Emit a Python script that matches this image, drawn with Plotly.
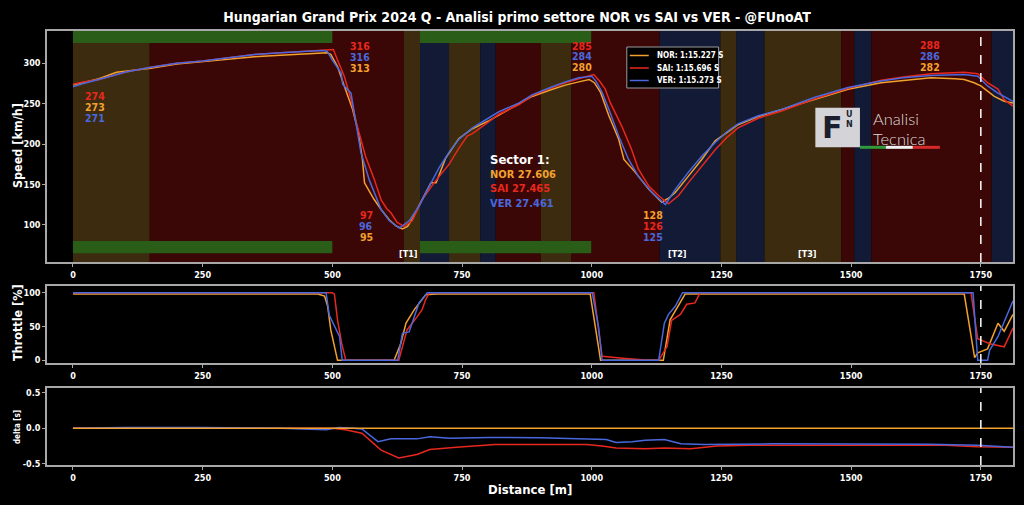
import plotly.graph_objects as go
from plotly.subplots import make_subplots

# ---------------- data ----------------
drivers = ["NOR", "SAI", "VER"]
lap_times = ["1:15.227", "1:15.696", "1:15.273"]
sector_times = ["27.606", "27.465", "27.461"]
colors = {"NOR": "#f2a12e", "SAI": "#e8281e", "VER": "#4a68de"}

nor_speed_d = [0, 20, 50, 84, 100, 150, 200, 250, 300, 350, 400, 450, 490, 497, 510, 523, 539, 550, 558, 562, 580, 594,
               610, 622, 635, 645, 655, 667, 680, 690, 700, 718, 725, 744, 770, 802, 827, 860, 885, 920, 949, 975, 995,
               1005, 1017, 1033, 1052, 1062, 1084, 1110, 1125, 1135, 1148, 1161, 1186, 1212, 1238, 1260, 1282, 1321,
               1366, 1430, 1494, 1558, 1600, 1654, 1700, 1718, 1737, 1750, 1776, 1795, 1812]
nor_speed = [273, 276, 281, 289, 290, 294, 299, 302, 305, 308, 310, 312, 313, 311, 296, 272, 243, 215, 181, 152, 132, 119,
             106, 99, 95, 98, 108, 124, 140, 152, 152, 182, 189, 207, 219, 229, 238, 250, 259, 267, 273, 277, 280,
             276, 264, 235, 206, 181, 165, 144, 134, 128, 133, 140, 160, 181, 204, 214, 224, 234,
             243, 256, 268, 276, 279, 282, 281, 280, 276, 272, 259, 253, 251]

sai_speed_d = [0, 20, 50, 100, 150, 200, 250, 300, 350, 400, 450, 490, 502, 510, 523, 536, 548, 564, 581, 594, 605, 613,
               625, 638, 654, 673, 696, 725, 744, 760, 770, 800, 821, 860, 885, 920, 949, 975, 1004, 1015, 1026, 1036,
               1058, 1077, 1090, 1110, 1129, 1148, 1167, 1186, 1212, 1238, 1260, 1282, 1321, 1366, 1430, 1494, 1558,
               1600, 1654, 1718, 1744, 1763, 1783, 1795, 1812]
sai_speed = [274, 277, 280, 289, 295, 300, 303, 307, 311, 313, 315, 316, 317, 304, 284, 255, 222, 185, 156, 131, 120, 115,
             103, 98, 105, 131, 152, 175, 195, 210, 213, 227, 237, 249, 260, 269, 276, 281, 286, 278, 268, 251,
             222, 193, 169, 148, 136, 126, 136, 152, 173, 193, 208, 220, 232, 241, 256, 269, 279,
             283, 287, 289, 287, 276, 268, 255, 247]

ver_speed_d = [0, 20, 50, 100, 150, 200, 250, 300, 350, 400, 450, 480, 490, 500, 517, 520, 536, 545, 555, 571, 594, 610,
               629, 648, 667, 687, 706, 725, 744, 770, 800, 821, 860, 885, 920, 949, 975, 1000, 1008, 1020, 1033, 1052,
               1071, 1090, 1116, 1130, 1142, 1161, 1186, 1212, 1238, 1260, 1282, 1321, 1366, 1430, 1494, 1558, 1600,
               1654, 1718, 1744, 1763, 1783, 1812]
ver_speed = [271, 275, 280, 289, 295, 300, 303, 307, 311, 313, 315, 316, 315, 304, 288, 274, 263, 230, 190, 156, 119, 105,
             96, 105, 123, 148, 171, 190, 206, 220, 232, 240, 251, 261, 270, 277, 282, 284, 278, 264, 243, 210,
             181, 160, 140, 132, 125, 144, 165, 185, 202, 215, 225, 235, 243, 258, 270, 278, 282,
             285, 286, 284, 272, 263, 253]

nor_thr_d = [0, 472, 485, 491, 497, 510, 619, 632, 642, 658, 671, 680, 700, 997, 1017, 1138, 1151, 1167, 1180,
             1718, 1738, 1744, 1763, 1783, 1795, 1812]
nor_thr = [98, 98, 95, 80, 45, 0, 0, 25, 55, 75, 88, 97, 98, 98, 0, 0, 60, 80, 98,
           98, 4, 11, 17, 55, 43, 68]
sai_thr_d = [0, 500, 504, 510, 518, 526, 628, 638, 644, 664, 673, 680, 687, 1004, 1012, 1020, 1060, 1110, 1129,
             1145, 1154, 1171, 1183, 1199, 1209, 1731, 1744, 1769, 1795, 1812]
sai_thr = [100, 100, 98, 60, 25, 0, 0, 30, 45, 65, 75, 90, 100, 100, 55, 6, 3, 0, 0,
           20, 59, 68, 83, 85, 100, 100, 32, 24, 20, 48]
ver_thr_d = [0, 488, 494, 505, 514, 519, 626, 635, 648, 667, 683, 1001, 1013, 1020, 1129, 1140, 1148, 1161, 1175,
             1735, 1744, 1763, 1767, 1783, 1812]
ver_thr = [100, 100, 67, 50, 35, 0, 0, 40, 42, 85, 100, 100, 50, 0, 0, 55, 68, 80, 100,
           100, 0, 0, 15, 35, 88]

nor_delta_d = [0, 1812]
nor_delta = [0, 0]
sai_delta_d = [0, 250, 500, 525, 557, 594, 628, 663, 688, 739, 814, 900, 990, 1020, 1047, 1103, 1140, 1191, 1241,
               1304, 1500, 1681, 1744, 1812]
sai_delta = [0, 0, 0, -0.02, -0.07, -0.31, -0.42, -0.37, -0.30, -0.27, -0.23, -0.23, -0.23, -0.25, -0.28, -0.29,
             -0.28, -0.29, -0.25, -0.24, -0.235, -0.24, -0.26, -0.27]
ver_delta_d = [0, 100, 250, 400, 488, 513, 540, 557, 588, 613, 663, 688, 726, 802, 900, 990, 1028, 1047, 1078, 1103,
               1140, 1172, 1216, 1350, 1493, 1650, 1744, 1812]
ver_delta = [0, 0.01, 0.01, 0, -0.02, 0.01, 0, -0.01, -0.19, -0.15, -0.15, -0.12, -0.14, -0.13, -0.135, -0.15, -0.16,
             -0.20, -0.19, -0.17, -0.16, -0.22, -0.23, -0.22, -0.22, -0.225, -0.24, -0.27]

# background bands (distance m)
band_start = [0, 148, 638, 669, 725, 785, 815, 902, 961, 1131, 1248, 1279, 1333, 1481, 1506, 1539, 1771]
band_end = [148, 638, 669, 725, 785, 815, 902, 961, 1131, 1248, 1279, 1333, 1481, 1506, 1539, 1771, 1812]
band_kind = ["olive", "red", "olive", "navy", "olive", "navy", "red", "olive", "red", "navy", "olive", "navy",
             "olive", "red", "navy", "red", "navy"]
band_colors = {"olive": "#3c2b0e", "red": "#3a0606", "navy": "#121a36"}
green_start = [0, 669]
green_end = [500, 999]

# speed labels
label_x = [42, 554, 565, 981, 1119, 1652]
label_vals = [[("274", "SAI"), ("273", "NOR"), ("271", "VER")],
              [("316", "SAI"), ("316", "VER"), ("313", "NOR")],
              [("97", "SAI"), ("96", "VER"), ("95", "NOR")],
              [("285", "SAI"), ("284", "VER"), ("280", "NOR")],
              [("128", "NOR"), ("126", "SAI"), ("125", "VER")],
              [("288", "SAI"), ("286", "VER"), ("282", "NOR")]]
label_y = [[259, 245.5, 232], [321.5, 308, 294.5], [112.5, 99, 85.5], [322, 308.5, 295], [112.5, 99, 85.5],
           [323, 309.5, 296]]

turn_names = ["[T1]", "[T2]", "[T3]"]
turn_x = [646, 1165, 1415]

FONT = "Liberation Sans Narrow, DejaVu Sans Condensed, Arial Narrow, sans-serif"
GRID = "#a8a8a8"
W, H, L, R, T, B = 1024, 505, 47, 9, 31, 40


def pxx(px):
    return (px - L) / (W - L - R)


def pxy(py):
    return (H - B - py) / (H - T - B)


fig = make_subplots(rows=3, cols=1)

speed_data = {"NOR": (nor_speed_d, nor_speed), "SAI": (sai_speed_d, sai_speed), "VER": (ver_speed_d, ver_speed)}
thr_data = {"NOR": (nor_thr_d, nor_thr), "SAI": (sai_thr_d, sai_thr), "VER": (ver_thr_d, ver_thr)}
delta_data = {"NOR": (nor_delta_d, nor_delta), "SAI": (sai_delta_d, sai_delta), "VER": (ver_delta_d, ver_delta)}

for drv, lt in zip(drivers, lap_times):
    d, v = speed_data[drv]
    fig.add_trace(go.Scatter(x=d, y=v, mode="lines", name=f"{drv}: {lt} S", showlegend=False,
                             line=dict(color=colors[drv], width=1.5)), row=1, col=1)
for drv in drivers:
    d, v = thr_data[drv]
    fig.add_trace(go.Scatter(x=d, y=v, mode="lines", showlegend=False,
                             line=dict(color=colors[drv], width=1.5)), row=2, col=1)
for drv in ["SAI", "VER", "NOR"]:
    d, v = delta_data[drv]
    fig.add_trace(go.Scatter(x=d, y=v, mode="lines", showlegend=False,
                             line=dict(color=colors[drv], width=1.5)), row=3, col=1)

shapes = []
for s, e, k in zip(band_start, band_end, band_kind):
    shapes.append(dict(type="rect", xref="x", yref="y domain", x0=s, x1=e, y0=0, y1=1,
                       fillcolor=band_colors[k], line=dict(width=0), layer="below"))
for s, e in zip(green_start, green_end):
    shapes.append(dict(type="rect", xref="x", yref="y", x0=s, x1=e, y0=325, y1=340,
                       fillcolor="#2a5e18", line=dict(width=0), layer="below"))
    shapes.append(dict(type="rect", xref="x", yref="y", x0=s, x1=e, y0=65, y1=80,
                       fillcolor="#2a5e18", line=dict(width=0), layer="below"))
for ax in ["", "2", "3"]:
    shapes.append(dict(type="line", xref="x" + ax, yref=("y" + ax + " domain"), x0=1750, x1=1750, y0=0, y1=1,
                       line=dict(color="white", width=1.5, dash="dash")))

# logo
shapes.append(dict(type="rect", xref="x", yref="y", x0=1431, x1=1517, y0=196, y1=245,
                   fillcolor="#d4d4d8", line=dict(width=0)))
shapes.append(dict(type="line", xref="x", yref="y", x0=1517, x1=1567, y0=196, y1=196,
                   line=dict(color="#2e9a3a", width=3)))
shapes.append(dict(type="line", xref="x", yref="y", x0=1567, x1=1619, y0=196, y1=196,
                   line=dict(color="#f2f2f2", width=3)))
shapes.append(dict(type="line", xref="x", yref="y", x0=1619, x1=1671, y0=196, y1=196,
                   line=dict(color="#d42a2a", width=3)))

ann = []
# manual legend (box, line samples, labels)
shapes.append(dict(type="rect", xref="paper", yref="paper", x0=pxx(628), x1=pxx(720), y0=pxy(88), y1=pxy(47),
                   fillcolor="black", line=dict(color="#9a9a9a", width=1)))
for drv, lt, py in zip(drivers, lap_times, [55.5, 68, 80.5]):
    shapes.append(dict(type="line", xref="paper", yref="paper", x0=pxx(631), x1=pxx(650), y0=pxy(py), y1=pxy(py),
                       line=dict(color=colors[drv], width=1.5)))
    ann.append(dict(x=pxx(656), y=pxy(py), xref="paper", yref="paper", text=f"{drv}: {lt} S", showarrow=False,
                    xanchor="left", yanchor="middle",
                    font=dict(family=FONT, size=8, color="white", weight="bold")))

for x, vals, ys in zip(label_x, label_vals, label_y):
    for (t, drv), y in zip(vals, ys):
        ann.append(dict(x=x, y=y, xref="x", yref="y", text=t, showarrow=False,
                        font=dict(family=FONT, size=10.5, color=colors[drv], weight="bold")))
for t, x in zip(turn_names, turn_x):
    ann.append(dict(x=x, y=64, xref="x", yref="y", text=t, showarrow=False,
                    font=dict(family=FONT, size=9, color="white", weight="bold")))
ann.append(dict(x=800, y=181, xref="x", yref="y", text="Sector 1:", showarrow=False, xanchor="left",
                font=dict(family=FONT, size=13, color="white", weight="bold")))
sector_text = "<br>".join(f"<span style='color:{colors[drv]}'>{drv} {st}</span>"
                          for drv, st in zip(drivers, sector_times))
ann.append(dict(x=800, y=144, xref="x", yref="y", text=sector_text, showarrow=False, xanchor="left",
                yanchor="middle", align="left",
                font=dict(family=FONT, size=11, color="white", weight="bold")))
# logo texts
ann.append(dict(x=1440, y=221, xref="x", yref="y", text="F", showarrow=False, xanchor="left",
                font=dict(family="DejaVu Sans", size=30, color="#1b1e2e", weight="bold")))
ann.append(dict(x=1486, y=231, xref="x", yref="y", text="U<br>N", showarrow=False, xanchor="left",
                font=dict(family="DejaVu Sans", size=8, color="#1b1e2e", weight="bold")))
ann.append(dict(x=1538, y=231, xref="x", yref="y", text="Analisi", showarrow=False, xanchor="left",
                font=dict(family="Lato, Open Sans, sans-serif", size=16.5, color="#dcdcdc", weight=300)))
ann.append(dict(x=1538, y=206, xref="x", yref="y", text="Tecnica", showarrow=False, xanchor="left",
                font=dict(family="Lato, Open Sans, sans-serif", size=16.5, color="#dcdcdc", weight=300)))

# axis titles
for text, px, py, ang, size in [("Speed [km/h]", 17, 146, -90, 12.5), ("Throttle [%]", 17, 323, -90, 12.5),
                                ("delta [s]", 17, 427, -90, 8), ("Distance [m]", 531, 490, 0, 13)]:
    ann.append(dict(x=pxx(px), y=pxy(py), xref="paper", yref="paper", text=text, showarrow=False, textangle=ang,
                    xanchor="center", yanchor="middle",
                    font=dict(family=FONT, size=size, color="white", weight="bold")))

fig.update_layout(
    width=1024, height=505,
    margin=dict(l=L, r=R, t=T, b=B),
    paper_bgcolor="black", plot_bgcolor="black",
    title=dict(text="Hungarian Grand Prix 2024 Q - Analisi primo settore NOR vs SAI vs VER - @FUnoAT",
               x=0.505, xanchor="center", y=1 - 17 / 505, yanchor="middle", yref="container",
               font=dict(family=FONT, size=14, color="white", weight="bold")),
    shapes=shapes, annotations=ann,
    showlegend=False,
)

tickfont = dict(family=FONT, size=9, color="white", weight="bold")
for i, dom in zip(["", "2", "3"], [[0.4677, 1.0], [0.235, 0.4124], [0.0, 0.1774]]):
    fig.layout["xaxis" + i].update(range=[-50, 1812], tickvals=[0, 250, 500, 750, 1000, 1250, 1500, 1750],
                                   showgrid=False, zeroline=False, showline=True, mirror=True,
                                   linecolor=GRID, linewidth=1.5, ticks="outside", ticklen=3,
                                   tickcolor=GRID, tickfont=tickfont)
    fig.layout["yaxis" + i].update(domain=dom, showgrid=False, zeroline=False, showline=True, mirror=True,
                                   linecolor=GRID, linewidth=1.5, ticks="outside", ticklen=3,
                                   tickcolor=GRID, tickfont=tickfont)
fig.layout.yaxis.update(range=[54, 340], tickvals=[100, 150, 200, 250, 300])
fig.layout.yaxis2.update(range=[-4, 110], tickvals=[0, 50, 100])
fig.layout.yaxis3.update(range=[-0.52, 0.57], tickvals=[-0.5, 0, 0.5], ticktext=["-0.5", "0.0", "0.5"])

fig.write_html("out.html")
